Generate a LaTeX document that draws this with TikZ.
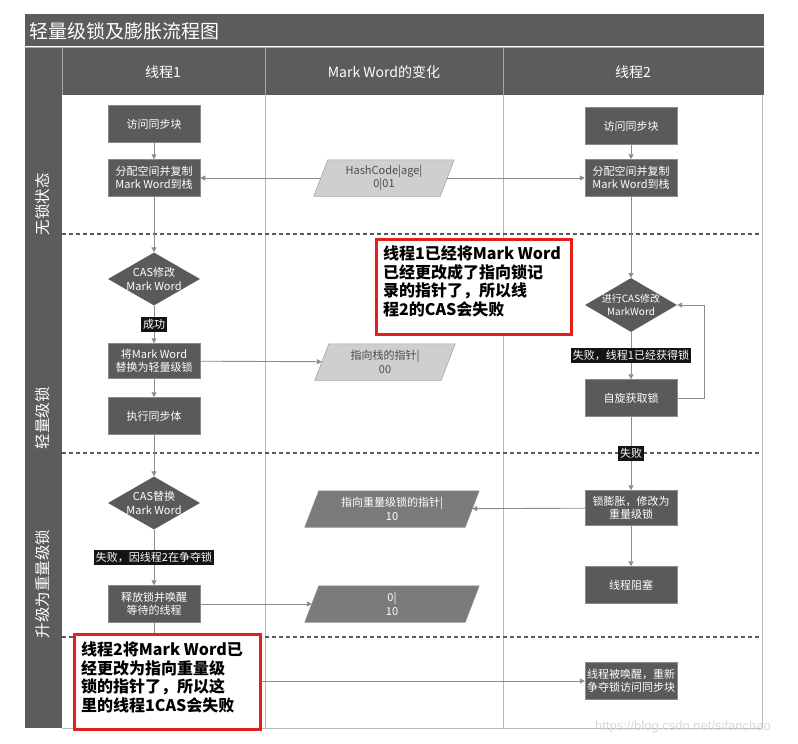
\documentclass[tikz,border=0pt]{standalone}
\usepackage{fontspec}
\setmainfont{Noto Sans CJK SC}
\newfontfamily\wmfont{Liberation Sans}
\usetikzlibrary{shapes.geometric,arrows.meta}
\definecolor{boxgray}{HTML}{5A5A5A}
\definecolor{bargray}{HTML}{5C5C5C}
\definecolor{linegray}{HTML}{8C8C8C}
\definecolor{colgray}{HTML}{B8B8B8}
\definecolor{dashgray}{HTML}{5A5A5A}
\definecolor{plight}{HTML}{CFCFCF}
\definecolor{pdark}{HTML}{7B7B7B}
\definecolor{calloutred}{HTML}{E3201C}
\tikzset{
  box/.style={draw=boxgray!70!white, line width=0.5pt, fill=boxgray, text=white,
    minimum width=92, minimum height=37, inner sep=1pt, align=center,
    font=\fontsize{11}{13.5}\selectfont},
  dia/.style={diamond, fill=boxgray, inner sep=0pt, minimum width=92, minimum height=53},
  dtext/.style={text=white, align=center, inner sep=0pt, font=\fontsize{11}{13.5}\selectfont},
  pframe/.style={rectangle, inner sep=0pt, minimum width=126, minimum height=36},
  ptext/.style={align=center, inner sep=0pt, font=\fontsize{11}{13.5}\selectfont},
  lbl/.style={fill=black!92, text=white, inner sep=2pt, font=\fontsize{11}{12}\selectfont},
  arr/.style={draw=linegray, line width=0.9pt, -{Triangle[length=5pt,width=5pt]}},
  lane/.style={text=white, rotate=90, font=\fontsize{15.5}{16}\selectfont},
  head/.style={text=white, font=\fontsize{14}{16}\selectfont},
  callout/.style={draw=calloutred, line width=2.6pt, fill=white, inner sep=0pt},
  ctext/.style={text=black, align=left, inner sep=0pt, font=\fontsize{16}{18.5}\selectfont\bfseries},
  sep/.style={draw=dashgray, line width=1.4pt, dash pattern=on 4pt off 3pt},
  col/.style={draw=colgray, line width=1pt}
}
\newcommand{\paragram}[2]{%
  \draw[#2, line width=0.6pt] ([xshift=-7pt]#1.south west) -- ([xshift=-7pt]#1.south east)
    -- ([xshift=7pt]#1.north east) -- ([xshift=7pt]#1.north west) -- cycle;}
\begin{document}
\begin{tikzpicture}[x=1pt,y=-1pt]
\useasboundingbox (0,0) rectangle (798,744);
\fill[white] (0,0) rectangle (798,744);
% title and header
\fill[bargray] (25,14) rectangle (764,46);
\node[text=white, anchor=west, font=\fontsize{19}{20}\selectfont] (title) at (26,31) {轻量级锁及膨胀流程图};
\fill[bargray] (25,48) rectangle (764,95);
\fill[bargray] (25,95) rectangle (62,728);
\draw[gray!70, line width=0.8pt] (25,47) -- (764,47);
\draw[gray!70, line width=0.8pt] (62,48) -- (62,95) (265,48) -- (265,95) (503,48) -- (503,95);
\node[head] (h1) at (163,72) {线程1};
\node[head] (h2) at (384,72) {Mark Word的变化};
\node[head] (h3) at (633,72) {线程2};
% lane labels
\node[lane] (l1) at (43,204) {无锁状态};
\node[lane] (l2) at (43,418) {轻量级锁};
\node[lane] (l3) at (43,584) {升级为重量级锁};
% column lines and frame
\draw[col] (265,95) -- (265,728);
\draw[col] (503,95) -- (503,728);
\draw[col] (762,95) -- (762,728);
\draw[col] (62,728) -- (762,728);
% section separators
\draw[sep] (62,234) -- (762,234);
\draw[sep] (62,453) -- (762,453);
\draw[sep] (62,637) -- (762,637);
% thread 1
\node[box] (t1a) at (154,124) {访问同步块};
\node[box] (t1b) at (154,178) {分配空间并复制\\Mark Word到栈};
\node[dia] (d1) at (154,279) {};
\node[dtext] (d1t) at (d1) {CAS修改\\Mark Word};
\node[box, minimum height=35] (t1c) at (154,361) {将Mark Word\\替换为轻量级锁};
\node[box] (t1d) at (154,416) {执行同步体};
\node[dia] (d2) at (154,503) {};
\node[dtext] (d2t) at (d2) {CAS替换\\Mark Word};
\node[box] (t1e) at (154,604) {释放锁并唤醒\\等待的线程};
% middle
\node[pframe] (p1) at (384,178) {};
\paragram{p1}{fill=plight, draw=gray!70}
\node[ptext, text=black!70] (p1t) at (p1) {HashCode|age|\\0|01};
\node[pframe] (p2) at (385,362) {};
\paragram{p2}{fill=plight, draw=gray!70}
\node[ptext, text=black!70] (p2t) at (p2) {指向栈的指针|\\00};
\node[pframe, minimum width=160] (p3) at (392,509) {};
\paragram{p3}{fill=pdark, draw=gray!90}
\node[ptext, text=white] (p3t) at (p3) {指向重量级锁的指针|\\10};
\node[pframe, minimum width=160] (p4) at (392,604) {};
\paragram{p4}{fill=pdark, draw=gray!90}
\node[ptext, text=white] (p4t) at (p4) {0|\\10};
% thread 2
\node[box] (t2a) at (631,126) {访问同步块};
\node[box] (t2b) at (631,178) {分配空间并复制\\Mark Word到栈};
\node[dia, minimum height=54] (t2d) at (631,305) {};
\node[dtext, font=\fontsize{10}{13}\selectfont] (t2dt) at (t2d) {进行CAS修改\\MarkWord};
\node[box] (t2c) at (631,398) {自旋获取锁};
\node[box, minimum height=35] (t2e) at (631,508) {锁膨胀，修改为\\重量级锁};
\node[box] (t2g) at (631,585) {线程阻塞};
\node[box] (t2f) at (631,681) {线程被唤醒，重新\\争夺锁访问同步块};
% connectors
\draw[arr] (t1a) -- (t1b);
\draw[arr] (t1b) -- (d1);
\draw[arr] (d1) -- (t1c) node[lbl, midway] (s1) {成功};
\draw[arr] (t1c) -- (t1d);
\draw[arr] (t1d) -- (d2);
\draw[arr] (d2) -- (t1e) node[lbl, midway] (s2) {失败，因线程2在争夺锁};
\draw[arr] (t1e) |- (t2f);
\draw[arr] (p1) -- (t1b);
\draw[arr] (p1) -- (t2b);
\draw[arr] (t1c) -- (p2);
\draw[arr] (t1e) -- (p4);
\draw[arr] (t2e) -- (p3);
\draw[arr] (t2a) -- (t2b);
\draw[arr] (t2b) -- (t2d);
\draw[arr] (t2d) -- (t2c) node[lbl, midway] (s3) {失败，线程1已经获得锁};
\draw[arr] (t2c.east) -- ++(27,0) |- (t2d.east);
\draw[arr] (t2c) -- (t2e) node[lbl, pos=0.5] (s4) {失败};
\draw[arr] (t2e) -- (t2g);
% callouts
\node[callout, anchor=north west, minimum width=195, minimum height=95] (c1) at (375,238) {};
\node[ctext, anchor=north west] (c1t) at ([xshift=8pt,yshift=-8pt]c1.north west) {线程1已经将Mark Word\\已经更改成了指向锁记\\录的指针了，所以线\\程2的CAS会失败};
\node[callout, anchor=north west, minimum width=186, minimum height=95] (c2) at (73,633) {};
\node[ctext, anchor=north west] (c2t) at ([xshift=8pt,yshift=-9pt]c2.north west) {线程2将Mark Word已\\经更改为指向重量级\\锁的指针了，所以这\\里的线程1CAS会失败};
% watermark
\node[text=gray!30, font=\wmfont\fontsize{13}{14}\selectfont] (wm) at (683,727) {https://blog.csdn.net/sifanchao};
\end{tikzpicture}
\end{document}
